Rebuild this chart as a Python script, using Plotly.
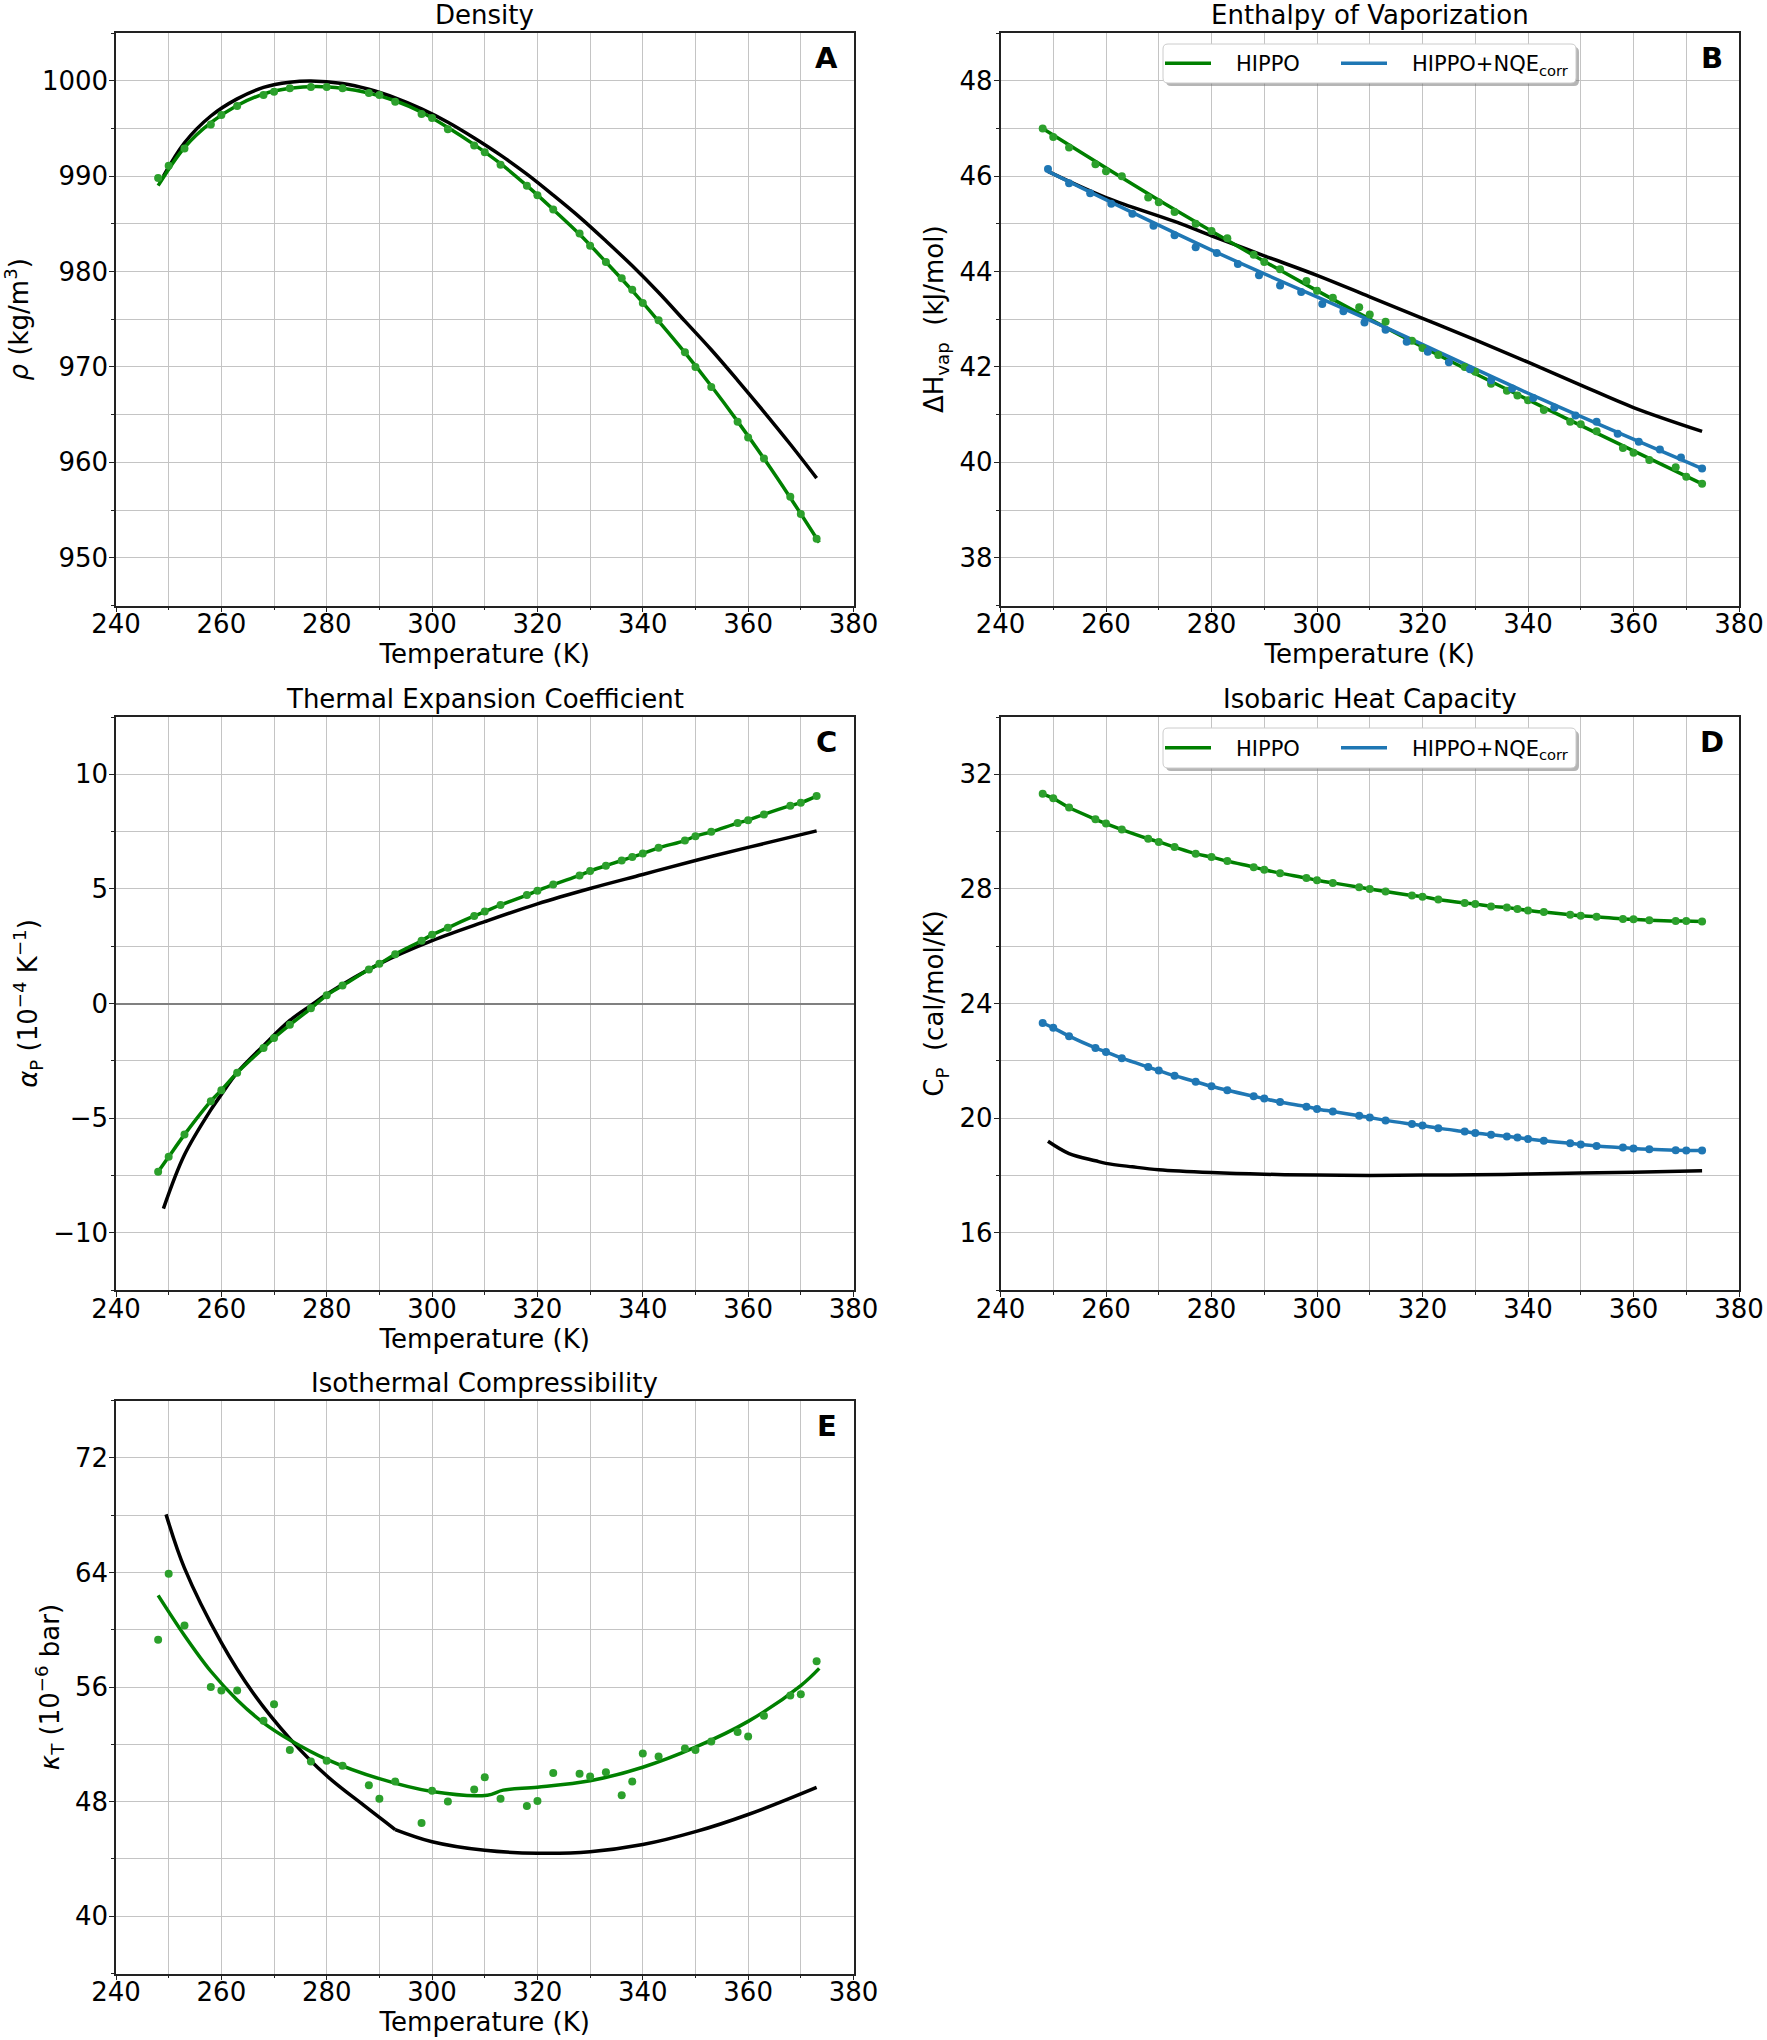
import plotly.graph_objects as go

# ── Data ─────────────────────────────────────────────────────────
T = [248, 250, 253, 258, 260, 263, 268, 270, 273, 277, 280, 283, 288, 290, 293,
     298, 300, 303, 308, 310, 313, 318, 320, 323, 328, 330, 333, 336, 338, 340,
     343, 348, 350, 353, 358, 360, 363, 368, 370, 373]

# A: density (kg/m3)
rho_hippo = [989.8, 991.1, 992.9, 995.4, 996.4, 997.35, 998.5, 998.85, 999.2, 999.35,
             999.35, 999.2, 998.7, 998.5, 997.8, 996.5, 996.1, 994.9, 993.2, 992.5,
             991.2, 989.0, 988.0, 986.5, 984.0, 982.7, 981.0, 979.3, 978.1, 976.7,
             974.9, 971.55, 970.0, 967.9, 964.25, 962.6, 960.4, 956.4, 954.6, 952.0]
T_rho_fit = [248, 253, 258, 263, 268, 273, 278, 283, 288, 293, 298, 303, 308, 313,
             318, 323, 328, 333, 338, 343, 348, 353, 358, 363, 368, 373.5]
rho_fit = [989.0, 993.0, 995.6, 997.4, 998.6, 999.2, 999.4, 999.2, 998.7, 997.9,
           996.7, 995.1, 993.3, 991.3, 989.0, 986.5, 983.9, 981.0, 978.0, 974.8,
           971.5, 968.0, 964.3, 960.4, 956.3, 951.6]
T_rho_exp = [249, 253, 258, 263, 268, 273, 277, 283, 288, 293, 298, 303, 308, 313,
             318, 323, 328, 333, 338, 343, 348, 353, 358, 363, 368, 373]
rho_exp = [990.0, 993.5, 996.3, 998.1, 999.3, 999.84, 999.97, 999.7, 999.1, 998.2,
           997.05, 995.65, 994.0, 992.2, 990.2, 988.0, 985.7, 983.2, 980.6, 977.8,
           974.8, 971.8, 968.6, 965.3, 961.9, 958.35]

# B: enthalpy of vaporization (kJ/mol)
hvap_hippo = [47.0, 46.82, 46.6, 46.25, 46.1, 46.0, 45.55, 45.45, 45.25, 45.0,
              44.85, 44.7, 44.35, 44.2, 44.05, 43.8, 43.6, 43.45, 43.25, 43.1,
              42.95, 42.55, 42.4, 42.25, 42.0, 41.9, 41.65, 41.5, 41.4, 41.3,
              41.1, 40.85, 40.8, 40.65, 40.3, 40.2, 40.05, 39.9, 39.7, 39.55]
T_hvap_fit = [248, 273, 298, 323, 348, 373]
hvap_fit = [47.0, 45.3, 43.72, 42.25, 40.88, 39.55]
T_nqe = [249, 253, 257, 261, 265, 269, 273, 277, 281, 285, 289, 293, 297, 301, 305, 309,
         313, 317, 321, 325, 329, 333, 337, 341, 345, 349, 353, 357, 361, 365, 369, 373]
hvap_nqe = [46.15, 45.85, 45.64, 45.42, 45.21, 44.96, 44.76, 44.51, 44.39, 44.16, 43.92,
            43.71, 43.57, 43.32, 43.17, 42.93, 42.78, 42.53, 42.32, 42.1, 41.95, 41.72,
            41.55, 41.35, 41.15, 40.98, 40.85, 40.6, 40.43, 40.27, 40.1, 39.87]
T_nqe_fit = [249, 280, 311, 342, 373]
hvap_nqe_fit = [46.1, 44.45, 42.93, 41.35, 39.87]
T_hvap_exp = [249, 260, 273, 280, 290, 300, 310, 320, 330, 340, 350, 360, 373]
hvap_exp = [46.1, 45.55, 45.05, 44.75, 44.33, 43.92, 43.47, 43.02, 42.57, 42.1, 41.62,
            41.15, 40.65]

# C: thermal expansion coefficient (1e-4 / K)
alpha_hippo = [-7.34, -6.69, -5.72, -4.26, -3.78, -3.02, -1.94, -1.50, -0.93, -0.21,
               0.36, 0.78, 1.48, 1.73, 2.15, 2.74, 3.0, 3.31, 3.82, 4.01,
               4.30, 4.73, 4.92, 5.19, 5.59, 5.78, 6.01, 6.24, 6.39, 6.54,
               6.79, 7.11, 7.30, 7.49, 7.87, 8.0, 8.25, 8.63, 8.76, 9.05]
T_alpha_exp = [249, 253, 258, 260, 263, 268, 273, 277, 280, 290, 300, 310, 320, 330,
               340, 350, 360, 373]
alpha_exp = [-8.95, -6.6, -4.64, -3.97, -3.02, -1.84, -0.74, -0.08, 0.40, 1.73, 2.74,
             3.57, 4.35, 5.02, 5.63, 6.24, 6.81, 7.53]

# D: isobaric heat capacity (cal/mol/K)
cp_hippo = [31.32, 31.16, 30.84, 30.43, 30.28, 30.07, 29.75, 29.64, 29.46, 29.23,
            29.11, 28.97, 28.76, 28.67, 28.55, 28.38, 28.30, 28.21, 28.06, 28.0,
            27.91, 27.77, 27.73, 27.63, 27.51, 27.47, 27.39, 27.35, 27.30, 27.25,
            27.19, 27.10, 27.06, 27.03, 26.95, 26.94, 26.91, 26.88, 26.88, 26.86]
cp_nqe = [23.32, 23.15, 22.86, 22.45, 22.31, 22.09, 21.78, 21.66, 21.48, 21.27,
          21.11, 20.97, 20.76, 20.68, 20.56, 20.40, 20.32, 20.23, 20.08, 20.02,
          19.92, 19.79, 19.74, 19.65, 19.53, 19.48, 19.42, 19.36, 19.32, 19.27,
          19.21, 19.12, 19.08, 19.03, 18.97, 18.94, 18.91, 18.88, 18.87, 18.87]
T_cp_exp = [249, 253, 258, 260, 265, 270, 280, 290, 300, 310, 320, 330, 340, 350, 360, 373]
cp_exp = [19.19, 18.76, 18.51, 18.42, 18.3, 18.2, 18.10, 18.04, 18.01, 18.0, 18.01,
          18.02, 18.05, 18.08, 18.11, 18.16]

# E: isothermal compressibility (1e-6 / bar)
kappa_hippo = [59.3, 63.9, 60.3, 56.0, 55.75, 55.75, 53.65, 54.8, 51.6, 50.8,
               50.85, 50.5, 49.15, 48.2, 49.4, 46.5, 48.75, 48.0, 48.85, 49.7,
               48.2, 47.7, 48.05, 50.0, 49.95, 49.75, 50.05, 48.45, 49.4, 51.35,
               51.15, 51.7, 51.6, 52.2, 52.85, 52.55, 54.0, 55.4, 55.5, 57.8]
T_kappa_fit = [248, 253, 258, 263, 268, 273, 280, 290, 300, 310.5, 313.5, 320, 330,
               340, 350, 360, 370, 373.5]
kappa_fit = [62.4, 59.6, 57.1, 55.1, 53.5, 52.3, 50.95, 49.6, 48.7, 48.45, 48.8, 49.0,
             49.45, 50.4, 51.8, 53.6, 56.1, 57.3]
# experiment: low-T branch up to 293 K, then high-T branch
T_kappa_exp_lo = [249.5, 253, 260, 266, 273, 280, 287, 293]
kappa_exp_lo = [68.05, 64.3, 59.1, 55.6, 52.4, 49.8, 47.75, 46.05]
T_kappa_exp_hi = [293, 300, 310, 320, 330, 340, 350, 360, 373]
kappa_exp_hi = [46.05, 45.2, 44.6, 44.4, 44.5, 45.0, 45.9, 47.1, 49.0]

# ── Style ────────────────────────────────────────────────────────
W, H = 1767, 2040
FONT = "DejaVu Sans"
GREEN_LINE = "#008000"
GREEN_PT = "#2ca02c"
BLUE = "#1f77b4"
AXIS = "#222222"
GRID = "#c4c4c4"

# panel boxes in pixels: left, right, top, bottom
BOXES = {
    "A": (116, 853.5, 33, 605.5),
    "B": (1000.5, 1739, 33, 605.5),
    "C": (116, 853.5, 717, 1290),
    "D": (1000.5, 1739, 717, 1290),
    "E": (116, 853.5, 1400.5, 1973.5),
}
TITLES = {
    "A": "Density",
    "B": "Enthalpy of Vaporization",
    "C": "Thermal Expansion Coefficient",
    "D": "Isobaric Heat Capacity",
    "E": "Isothermal Compressibility",
}


def px_x(p):
    return p / W


def px_y(p):
    return 1 - p / H


fig = go.Figure()


def line(x, y, color, n, width=3.5, shape="spline", name=None, legend=None):
    fig.add_trace(go.Scatter(
        x=x, y=y, mode="lines", line=dict(color=color, width=width, shape=shape),
        xaxis=f"x{n}" if n > 1 else "x", yaxis=f"y{n}" if n > 1 else "y",
        showlegend=name is not None, name=name, legend=legend,
    ))


def dots(x, y, color, n, size=8):
    fig.add_trace(go.Scatter(
        x=x, y=y, mode="markers", marker=dict(color=color, size=size),
        xaxis=f"x{n}" if n > 1 else "x", yaxis=f"y{n}" if n > 1 else "y",
        showlegend=False,
    ))


GAP = "&nbsp;&nbsp;&nbsp;"
NAME_G = GAP + "HIPPO"
NAME_B = GAP + "HIPPO+NQE<sub>corr</sub>"

# A
line(T_rho_exp, rho_exp, "black", 1)
line(T_rho_fit, rho_fit, GREEN_LINE, 1)
dots(T, rho_hippo, GREEN_PT, 1)
# B
line(T_hvap_exp, hvap_exp, "black", 2)
line(T_hvap_fit, hvap_fit, GREEN_LINE, 2, name=NAME_G, legend="legend")
line(T_nqe_fit, hvap_nqe_fit, BLUE, 2, name=NAME_B, legend="legend2")
dots(T, hvap_hippo, GREEN_PT, 2)
dots(T_nqe, hvap_nqe, BLUE, 2)
# C
line(T_alpha_exp, alpha_exp, "black", 3)
line(T, alpha_hippo, GREEN_LINE, 3)
dots(T, alpha_hippo, GREEN_PT, 3)
# D
line(T_cp_exp, cp_exp, "black", 4)
line(T, cp_hippo, GREEN_LINE, 4, name=NAME_G, legend="legend3")
line(T, cp_nqe, BLUE, 4, name=NAME_B, legend="legend4")
dots(T, cp_hippo, GREEN_PT, 4)
dots(T, cp_nqe, BLUE, 4)
# E
line(T_kappa_exp_lo, kappa_exp_lo, "black", 5)
line(T_kappa_exp_hi, kappa_exp_hi, "black", 5)
line(T_kappa_fit, kappa_fit, GREEN_LINE, 5)
dots(T, kappa_hippo, GREEN_PT, 5)


def axis(rng, dtick, minor, title=None, standoff=6, **extra):
    d = dict(
        range=rng, dtick=dtick, tick0=0, autorange=False,
        showline=True, linecolor=AXIS, linewidth=1.5, mirror=True,
        ticks="outside", ticklen=5, tickwidth=1.3, tickcolor=AXIS,
        showgrid=True, gridcolor=GRID, gridwidth=1, zeroline=False,
        minor=dict(dtick=minor, tick0=0, showgrid=True, gridcolor=GRID, gridwidth=1,
                   ticks="outside", ticklen=3, tickcolor=AXIS),
        tickfont=dict(family=FONT, size=26, color="black"),
        automargin=False,
    )
    if title:
        d["title"] = dict(text=title, standoff=standoff,
                          font=dict(family=FONT, size=26, color="black"))
    d.update(extra)
    return d


Y_SPECS = {
    "A": ([945, 1005], 10, 5, "<i>ρ</i> (kg/m<sup>3</sup>)", {}),
    "B": ([37, 49], 2, 1, "ΔH<sub>vap</sub>  (kJ/mol)", {}),
    "C": ([-12.5, 12.5], 5, 2.5, "<i>α</i><sub>P</sub> (10<sup>−4</sup> K<sup>−1</sup>)",
          dict(zeroline=True, zerolinecolor="#808080", zerolinewidth=2)),
    "D": ([14, 34], 4, 2, "C<sub>P</sub>  (cal/mol/K)", {}),
    "E": ([36, 76], 8, 4, "<i>κ</i><sub>T</sub> (10<sup>−6</sup> bar)", {}),
}

layout_axes = {}
annotations = []
for i, key in enumerate("ABCDE"):
    n = i + 1
    left, right, top, bottom = BOXES[key]
    xname = "xaxis" if n == 1 else f"xaxis{n}"
    yname = "yaxis" if n == 1 else f"yaxis{n}"
    xt = None if key == "D" else "Temperature (K)"
    layout_axes[xname] = axis([240, 380], 20, 10, xt, standoff=2,
                              domain=[px_x(left), px_x(right)],
                              anchor="y" if n == 1 else f"y{n}",
                              ticklabelstandoff=-10)
    rng, dt, mn, yt, extra = Y_SPECS[key]
    layout_axes[yname] = axis(rng, dt, mn, yt, standoff=8,
                              domain=[px_y(bottom), px_y(top)],
                              anchor="x" if n == 1 else f"x{n}",
                              ticklabelstandoff=-4, **extra)
    # panel title
    annotations.append(dict(
        text=TITLES[key], xref="paper", yref="paper",
        x=px_x((left + right) / 2), y=px_y(top), xanchor="center", yanchor="bottom",
        yshift=1, showarrow=False, font=dict(family=FONT, size=26, color="black"),
    ))
    # panel letter
    annotations.append(dict(
        text=f"<b>{key}</b>", xref="paper", yref="paper",
        x=px_x(right - 27), y=px_y(top + 25), xanchor="center", yanchor="middle",
        showarrow=False, font=dict(family=FONT, size=29, color="black"),
    ))


def rounded_box(x0, y0, x1, y1, r=5):
    # path in paper coordinates, corners rounded by r pixels
    rx, ry = r / W, r / H
    X0, X1 = px_x(x0), px_x(x1)
    Y0, Y1 = px_y(y0), px_y(y1)  # Y0 is top
    return (f"M {X0 + rx},{Y0} L {X1 - rx},{Y0} Q {X1},{Y0} {X1},{Y0 - ry} "
            f"L {X1},{Y1 + ry} Q {X1},{Y1} {X1 - rx},{Y1} L {X0 + rx},{Y1} "
            f"Q {X0},{Y1} {X0},{Y1 + ry} L {X0},{Y0 - ry} Q {X0},{Y0} {X0 + rx},{Y0} Z")


shapes = []
LEG_BOXES = [(1163, 44, 1576, 83), (1163, 728, 1576, 768)]
for (x0, y0, x1, y1) in LEG_BOXES:
    shapes.append(dict(type="path", xref="paper", yref="paper", layer="above",
                       path=rounded_box(x0 + 3, y0 + 3, x1 + 3, y1 + 3),
                       fillcolor="rgba(120,120,120,0.55)", line=dict(width=0)))
    shapes.append(dict(type="path", xref="paper", yref="paper", layer="above",
                       path=rounded_box(x0, y0, x1, y1),
                       fillcolor="white", line=dict(color="#cccccc", width=1)))

legend_common = dict(
    orientation="h", xanchor="left", yanchor="middle",
    bgcolor="rgba(0,0,0,0)", borderwidth=0,
    font=dict(family=FONT, size=21, color="black"),
    itemwidth=46,
)

fig.update_layout(
    width=W, height=H,
    margin=dict(l=0, r=0, t=0, b=0),
    paper_bgcolor="white", plot_bgcolor="white",
    font=dict(family=FONT, color="black"),
    annotations=annotations,
    shapes=shapes,
    legend=dict(x=px_x(1160), y=px_y(63.5), **legend_common),
    legend2=dict(x=px_x(1336), y=px_y(63.5), **legend_common),
    legend3=dict(x=px_x(1160), y=px_y(748), **legend_common),
    legend4=dict(x=px_x(1336), y=px_y(748), **legend_common),
    **layout_axes,
)

fig.write_html("out.html", config={"displayModeBar": False},
               post_script="document.body.style.margin='0';")
